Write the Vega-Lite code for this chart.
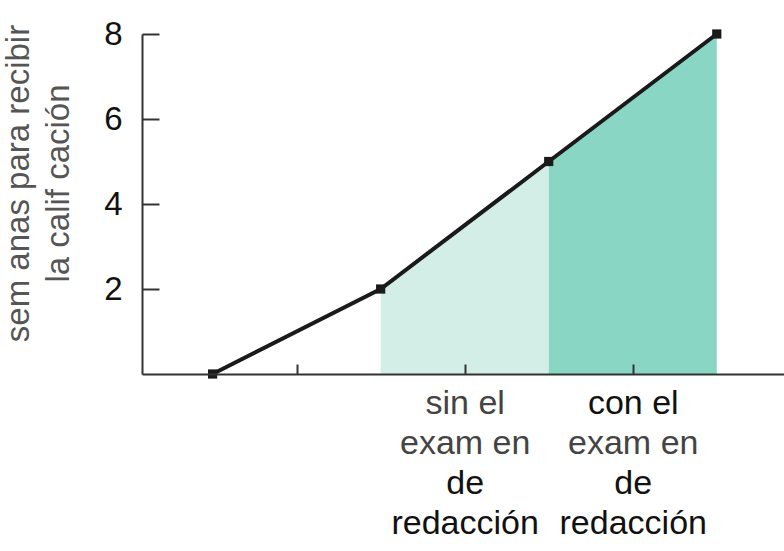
{
  "$schema": "https://vega.github.io/schema/vega-lite/v6.json",
  "width": 642,
  "height": 340,
  "autosize": {"type": "none"},
  "padding": {"left": 142, "top": 34, "right": 0, "bottom": 177},
  "background": "white",
  "config": {"view": {"stroke": null}, "font": "Liberation Sans"},
  "datasets": {
    "serie": [
      {"x": 0.5, "semanas": 0},
      {"x": 1.5, "semanas": 2},
      {"x": 2.5, "semanas": 5},
      {"x": 3.5, "semanas": 8}
    ],
    "tramos": [
      {"x": 1.5, "semanas": 2, "tramo": "sin"},
      {"x": 2.5, "semanas": 5, "tramo": "sin"},
      {"x": 2.5, "semanas": 5, "tramo": "con"},
      {"x": 3.5, "semanas": 8, "tramo": "con"}
    ]
  },
  "layer": [
    {
      "data": {"name": "tramos"},
      "mark": {"type": "area", "opacity": 1},
      "encoding": {
        "x": {
          "field": "x", "type": "quantitative",
          "scale": {"domain": [0.08, 3.9], "nice": false, "zero": false},
          "axis": {
            "orient": "bottom",
            "values": [1, 2, 3], "grid": false, "title": null, "zindex": 1,
            "tickSize": -10, "tickWidth": 2, "tickColor": "#333333",
            "domainColor": "#333333", "domainWidth": 2,
            "labelExpr": "datum.value == 2 ? ['sin el', 'exam en', '\u200b', '\u200b'] : datum.value == 3 ? ['\u200b', 'exam en', '\u200b', '\u200b'] : ''",
            "labelColor": "#444444", "labelFontSize": 34, "labelLineHeight": 40,
            "labelBaseline": "alphabetic", "labelPadding": 49,
            "labelOverlap": false, "labelBound": false, "labelFlush": false
          }
        },
        "y": {
          "field": "semanas", "type": "quantitative", "stack": null,
          "scale": {"domain": [0, 8], "nice": false},
          "axis": {
            "values": [2, 4, 6, 8], "grid": false, "zindex": 1,
            "tickSize": -17, "tickWidth": 2, "tickColor": "#333333",
            "domainColor": "#333333", "domainWidth": 2,
            "labelFontSize": 33, "labelColor": "#111111", "labelPadding": 37,
            "title": ["sem anas para recibir", "la calif cación"],
            "titleFontSize": 33, "titleFontWeight": "normal", "titleColor": "#555555",
            "titleAngle": -90, "titleAlign": "center", "titleBaseline": "alphabetic",
            "titleX": -114, "titleY": 149, "titleLineHeight": 40
          }
        },
        "color": {
          "field": "tramo", "type": "nominal",
          "scale": {"domain": ["sin", "con"], "range": ["#d3ede7", "#89d6c5"]},
          "legend": null
        }
      }
    },
    {
      "data": {"name": "serie"},
      "mark": {"type": "line", "color": "#1a1a1a", "strokeWidth": 4},
      "encoding": {
        "x": {
          "field": "x", "type": "quantitative",
          "scale": {"domain": [0.08, 3.9], "nice": false, "zero": false},
          "axis": {
            "orient": "bottom",
            "values": [2, 3], "grid": false, "title": null, "domain": false, "ticks": false,
            "labelExpr": "datum.value == 2 ? ['\u200b', '\u200b', 'de', 'redacción'] : datum.value == 3 ? ['con el', '\u200b', 'de', 'redacción'] : ''",
            "labelColor": "#111111", "labelFontSize": 34, "labelLineHeight": 40,
            "labelBaseline": "alphabetic", "labelPadding": 39,
            "labelOverlap": false, "labelBound": false, "labelFlush": false
          }
        },
        "y": {"field": "semanas", "type": "quantitative"}
      }
    },
    {
      "data": {"name": "serie"},
      "mark": {"type": "square", "size": 85, "color": "#1a1a1a", "opacity": 1},
      "encoding": {
        "x": {"field": "x", "type": "quantitative", "axis": null},
        "y": {"field": "semanas", "type": "quantitative"}
      }
    }
  ],
  "resolve": {"axis": {"x": "independent"}}
}
